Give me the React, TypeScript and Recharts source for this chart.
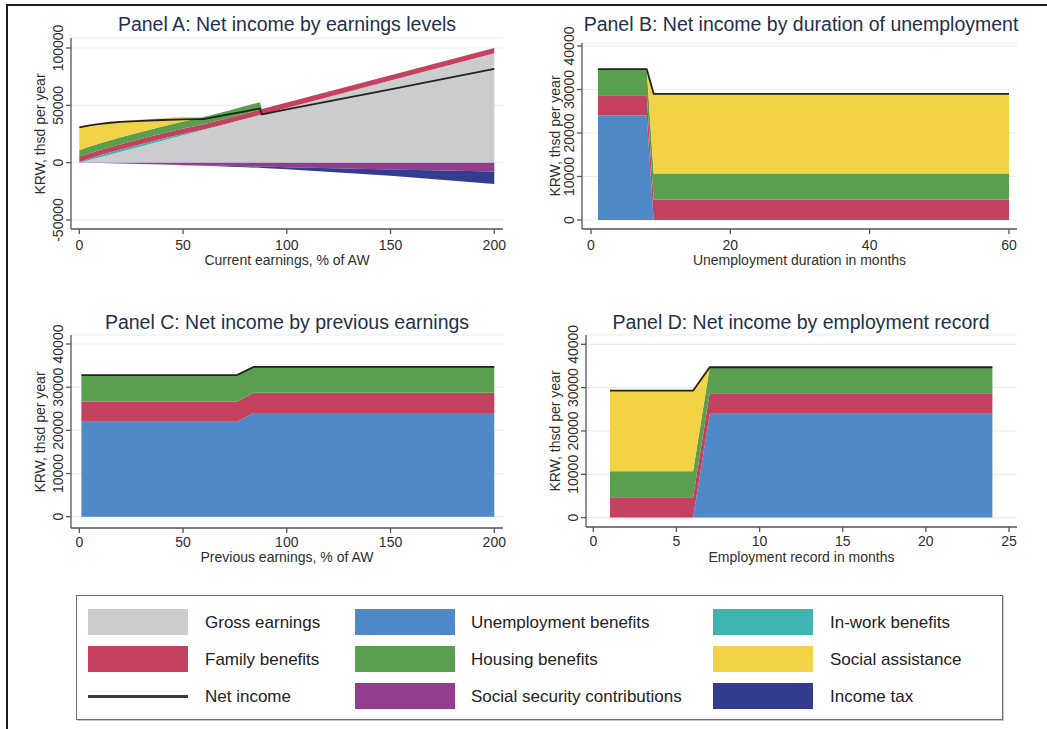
import { ComposedChart, Area, Line, XAxis, YAxis, CartesianGrid } from "recharts";

const FONT = '"Liberation Sans", Arial, Helvetica, sans-serif';

const COLORS = {
  gross: "#cbcccd",
  unemp: "#5089c8",
  inWork: "#3fb4b1",
  family: "#c4415f",
  housing: "#5a9e4f",
  assist: "#f3d346",
  ssc: "#923d8e",
  tax: "#343c8f",
  net: "#222222",
};

// Panel A: by current earnings (% of AW)
const earnA = [0, 5, 10, 15, 20, 30, 40, 50, 56, 60, 70, 80, 87, 88, 100, 150, 200];
const grossA = [0, 2400, 4800, 7200, 9500, 14300, 19100, 23900, 26700, 28600, 33400, 38200, 41500, 42000, 47700, 71600, 95400];
const inWorkA = [600, 1200, 1600, 1800, 1900, 1900, 1700, 1200, 600, 300, 0, 0, 0, 0, 0, 0, 0];
const familyA = [4700, 4700, 4700, 4700, 4700, 4700, 4700, 4700, 4700, 4700, 4700, 4700, 4700, 4700, 4700, 4700, 4700];
const housingA = [5500, 5700, 5800, 5900, 6000, 6000, 6000, 6100, 6200, 6300, 6400, 6500, 6500, 0, 0, 0, 0];
const assistA = [20000, 18800, 17300, 15800, 14200, 10800, 7300, 4100, 1500, 0, 0, 0, 0, 0, 0, 0, 0];
const sscA = [0, -200, -400, -600, -800, -1200, -1600, -2000, -2200, -2300, -2700, -3100, -3400, -3400, -3900, -5900, -7800];
const taxA = [0, 0, 0, 0, 0, 0, -50, -200, -300, -400, -700, -900, -1100, -1200, -1800, -5500, -10700];
const netA = [30800, 32600, 33800, 34800, 35500, 36500, 37200, 37800, 38000, 38000, 41500, 44800, 47300, 42000, 46500, 64000, 81700];

// Panel B: by months of unemployment
const monthsB = [1, 8, 9, 60];
const unempB = [24000, 24000, 0, 0];
const familyB = [4700, 4700, 4700, 4700];
const housingB = [6000, 6000, 6000, 6000];
const assistB = [0, 0, 18300, 18300];
const netB = [34700, 34700, 29000, 29000];

// Panel C: by previous earnings (% of AW)
const prevC = [1, 76, 84, 200];
const unempC = [22000, 22000, 24000, 24000];
const familyC = [4700, 4700, 4700, 4700];
const housingC = [6100, 6100, 6000, 6000];
const netC = [32800, 32800, 34700, 34700];

// Panel D: by months of employment record
const recordD = [1, 6, 7, 24];
const unempD = [0, 0, 24000, 24000];
const familyD = [4700, 4700, 4700, 4700];
const housingD = [6000, 6000, 6000, 6000];
const assistD = [18600, 18600, 0, 0];
const netD = [29300, 29300, 34700, 34700];

const tickEarn = [0, 50, 100, 150, 200];
const tickA = [-50000, 0, 50000, 100000];
const tickBCD = [0, 10000, 20000, 30000, 40000];

type Series = { key: string; color: string; stack: string };

function buildRows(x: number[], cols: Record<string, number[]>) {
  return x.map((v, i) => {
    const row: Record<string, number> = { x: v };
    Object.keys(cols).forEach((k) => (row[k] = cols[k][i]));
    return row;
  });
}

const YTick = (props: any) => {
  const { x, y, payload } = props;
  return (
    <text
      x={x}
      y={y}
      transform={`rotate(-90 ${x} ${y})`}
      textAnchor="middle"
      fontSize={14}
      fill="#2e2e2e"
      fontFamily={FONT}
    >
      {payload.value}
    </text>
  );
};

const centered = (cx: number, cy: number, extra: any = {}) => ({
  position: "absolute" as const,
  left: cx,
  top: cy,
  transform: "translate(-50%, -50%)",
  whiteSpace: "nowrap" as const,
  lineHeight: 1,
  ...extra,
});

interface PanelProps {
  data: Record<string, number>[];
  series: Series[];
  plot: { l: number; t: number; r: number; b: number };
  xDomain: [number, number];
  xTicks: number[];
  xTickGap: number;
  yDomain: [number, number];
  yTicks: number[];
  title: string;
  titleX: number;
  titleY: number;
  xTitle: string;
  xTitleY: number;
  yTitleX: number;
}

function Panel(p: PanelProps) {
  const { l, t, r, b } = p.plot;
  const yAxisW = 50;
  const xAxisH = 30;
  const padTop = 30;
  return (
    <>
      <div style={centered(p.titleX, p.titleY, { fontSize: 19.5, color: "#22304d" })}>{p.title}</div>
      <div style={{ position: "absolute", left: l - yAxisW, top: t - padTop }}>
        <ComposedChart
          width={r - l + yAxisW + 10}
          height={b - t + padTop + xAxisH}
          data={p.data}
          margin={{ top: padTop, right: 10, bottom: 0, left: 0 }}
        >
          <CartesianGrid horizontal vertical={false} stroke="#e7eeee" strokeWidth={1.2} />
          <XAxis
            type="number"
            dataKey="x"
            domain={p.xDomain}
            ticks={p.xTicks}
            allowDataOverflow
            height={xAxisH}
            tickSize={5}
            tickMargin={p.xTickGap}
            stroke="#555"
            strokeWidth={1.3}
            tick={{ fill: "#2e2e2e", fontSize: 14, fontFamily: FONT }}
          />
          <YAxis
            type="number"
            domain={p.yDomain}
            ticks={p.yTicks}
            allowDataOverflow
            width={yAxisW}
            tickSize={5}
            tickMargin={3}
            stroke="#555"
            strokeWidth={1.3}
            tick={YTick}
          />
          {p.series.map((s) => (
            <Area
              key={s.key}
              type="linear"
              dataKey={s.key}
              stackId={s.stack}
              fill={s.color}
              fillOpacity={1}
              stroke="none"
              isAnimationActive={false}
            />
          ))}
          <Line
            type="linear"
            dataKey="net"
            stroke={COLORS.net}
            strokeWidth={1.8}
            dot={false}
            isAnimationActive={false}
          />
        </ComposedChart>
      </div>
      <div
        style={centered(p.yTitleX, (t + b) / 2, {
          fontSize: 14,
          color: "#2e2e2e",
          transform: "translate(-50%, -50%) rotate(-90deg)",
        })}
      >
        KRW, thsd per year
      </div>
      <div style={centered((l + r) / 2, p.xTitleY, { fontSize: 14, color: "#2e2e2e" })}>{p.xTitle}</div>
    </>
  );
}

const seriesA: Series[] = [
  { key: "gross", color: COLORS.gross, stack: "pos" },
  { key: "inWork", color: COLORS.inWork, stack: "pos" },
  { key: "family", color: COLORS.family, stack: "pos" },
  { key: "housing", color: COLORS.housing, stack: "pos" },
  { key: "assist", color: COLORS.assist, stack: "pos" },
  { key: "ssc", color: COLORS.ssc, stack: "neg" },
  { key: "tax", color: COLORS.tax, stack: "neg" },
];

const seriesBenefits: Series[] = [
  { key: "unemp", color: COLORS.unemp, stack: "pos" },
  { key: "family", color: COLORS.family, stack: "pos" },
  { key: "housing", color: COLORS.housing, stack: "pos" },
  { key: "assist", color: COLORS.assist, stack: "pos" },
];

const legendItems = [
  { label: "Gross earnings", color: COLORS.gross },
  { label: "Unemployment benefits", color: COLORS.unemp },
  { label: "In-work benefits", color: COLORS.inWork },
  { label: "Family benefits", color: COLORS.family },
  { label: "Housing benefits", color: COLORS.housing },
  { label: "Social assistance", color: COLORS.assist },
  { label: "Net income", color: "line" },
  { label: "Social security contributions", color: COLORS.ssc },
  { label: "Income tax", color: COLORS.tax },
];

const swatchX = [88, 355, 713];
const textX = [205, 471, 830];
const rowY = [622, 659, 696];

export default function App() {
  const dataA = buildRows(earnA, {
    gross: grossA,
    inWork: inWorkA,
    family: familyA,
    housing: housingA,
    assist: assistA,
    ssc: sscA,
    tax: taxA,
    net: netA,
  });
  const dataB = buildRows(monthsB, { unemp: unempB, family: familyB, housing: housingB, assist: assistB, net: netB });
  const dataC = buildRows(prevC, { unemp: unempC, family: familyC, housing: housingC, net: netC });
  const dataD = buildRows(recordD, { unemp: unempD, family: familyD, housing: housingD, assist: assistD, net: netD });

  return (
    <div
      style={{
        position: "absolute",
        left: 0,
        top: 0,
        width: 1047,
        height: 729,
        background: "#fff",
        fontFamily: FONT,
        overflow: "hidden",
      }}
    >
      <div
        style={{
          position: "absolute",
          left: 6,
          top: 4,
          width: 1060,
          height: 740,
          borderTop: "2px solid #1c1c1c",
          borderLeft: "2px solid #1c1c1c",
        }}
      />
      <Panel
        data={dataA}
        series={seriesA}
        plot={{ l: 71, t: 38, r: 503, b: 229 }}
        xDomain={[-4, 204.2]}
        xTicks={tickEarn}
        xTickGap={6}
        yDomain={[-57850, 108720]}
        yTicks={tickA}
        title="Panel A: Net income by earnings levels"
        titleX={287}
        titleY={25}
        xTitle="Current earnings, % of AW"
        xTitleY={260}
        yTitleX={40}
      />
      <Panel
        data={dataB}
        series={seriesBenefits}
        plot={{ l: 582, t: 43, r: 1017, b: 229 }}
        xDomain={[-1.29, 61.15]}
        xTicks={[0, 20, 40, 60]}
        xTickGap={6}
        yDomain={[-2070, 40690]}
        yTicks={tickBCD}
        title="Panel B: Net income by duration of unemployment"
        titleX={801}
        titleY={25}
        xTitle="Unemployment duration in months"
        xTitleY={260}
        yTitleX={555}
      />
      <Panel
        data={dataC}
        series={seriesBenefits.slice(0, 3)}
        plot={{ l: 71, t: 335, r: 503, b: 528 }}
        xDomain={[-4, 204.2]}
        xTicks={tickEarn}
        xTickGap={4}
        yDomain={[-2617, 42085]}
        yTicks={tickBCD}
        title="Panel C: Net income by previous earnings"
        titleX={287}
        titleY={323}
        xTitle="Previous earnings, % of AW"
        xTitleY={557}
        yTitleX={40}
      />
      <Panel
        data={dataD}
        series={seriesBenefits}
        plot={{ l: 586, t: 335, r: 1017, b: 527 }}
        xDomain={[-0.44, 25.48]}
        xTicks={[0, 5, 10, 15, 20, 25]}
        xTickGap={4}
        yDomain={[-2170, 42150]}
        yTicks={tickBCD}
        title="Panel D: Net income by employment record"
        titleX={801}
        titleY={323}
        xTitle="Employment record in months"
        xTitleY={557}
        yTitleX={555}
      />

      <div
        style={{
          position: "absolute",
          left: 76,
          top: 595,
          width: 927,
          height: 125,
          boxSizing: "border-box",
          border: "1.5px solid #6f6f6f",
          boxShadow: "1px 1px 0 #c8c8c8",
        }}
      />
      {legendItems.map((item, i) => {
        const col = i % 3;
        const row = Math.floor(i / 3);
        const cy = rowY[row];
        return (
          <div key={item.label}>
            {item.color === "line" ? (
              <div
                style={{
                  position: "absolute",
                  left: swatchX[col],
                  top: cy - 1.5,
                  width: 100,
                  height: 3,
                  background: "#3a3a3a",
                }}
              />
            ) : (
              <div
                style={{
                  position: "absolute",
                  left: swatchX[col],
                  top: cy - 13,
                  width: 100,
                  height: 26,
                  background: item.color,
                }}
              />
            )}
            <div
              style={{
                position: "absolute",
                left: textX[col],
                top: cy,
                transform: "translateY(-50%)",
                fontSize: 17,
                lineHeight: 1,
                color: "#222",
                whiteSpace: "nowrap",
              }}
            >
              {item.label}
            </div>
          </div>
        );
      })}
    </div>
  );
}
